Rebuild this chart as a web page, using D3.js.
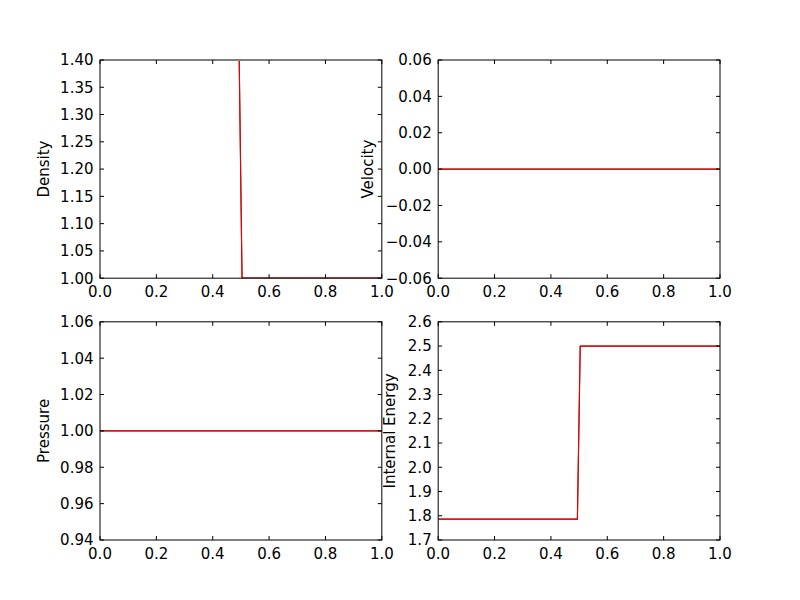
<!DOCTYPE html>
<html><head><meta charset="utf-8">
<script src="https://cdn.jsdelivr.net/npm/d3@7"></script>
<style>body{margin:0;background:#fff}</style>
</head><body>
<svg id="c" width="800" height="600"></svg>
<script>
const xs = [0, 0.494, 0.504, 1.0];
const density = [1.4, 1.4, 1.0, 1.0];
const velocity = [0, 0, 0, 0];
const pressure = [1.0, 1.0, 1.0, 1.0];
const energy = [1.786, 1.786, 2.5, 2.5];
const xTicks = [0, 0.2, 0.4, 0.6, 0.8, 1.0];
const densTicks = [1.00,1.05,1.10,1.15,1.20,1.25,1.30,1.35,1.40];
const velTicks = [-0.06,-0.04,-0.02,0,0.02,0.04,0.06];
const presTicks = [0.94,0.96,0.98,1.00,1.02,1.04,1.06];
const enTicks = [1.7,1.8,1.9,2.0,2.1,2.2,2.3,2.4,2.5,2.6];

const panels = [
  {label:"Density", y:density, dom:[1.0,1.4], ticks:densTicks, fmt:d3.format(".2f"), col:0,row:0, lx:-51},
  {label:"Velocity", y:velocity, dom:[-0.06,0.06], ticks:velTicks, fmt:d=>d3.format(".2f")(d).replace("-","\u2212"), col:1,row:0, lx:-65},
  {label:"Pressure", y:pressure, dom:[0.94,1.06], ticks:presTicks, fmt:d3.format(".2f"), col:0,row:1, lx:-51},
  {label:"Internal Energy", y:energy, dom:[1.7,2.6], ticks:enTicks, fmt:d3.format(".1f"), col:1,row:1, lx:-43}
];
const svg = d3.select("#c");
const W = 620/2.2, H = 480/2.2;
const font = "DejaVu Sans";
const fs = "15px";
panels.forEach((p,i)=>{
  const x0 = 100 + p.col*(W*1.2), y0 = 60 + p.row*(H*1.2);
  const g = svg.append("g").attr("transform",`translate(${x0},${y0})`);
  const xs_ = d3.scaleLinear().domain([0,1]).range([0,W]);
  const ys = d3.scaleLinear().domain(p.dom).range([H,0]);
  const cid = "clip"+i;
  g.append("clipPath").attr("id",cid).append("rect").attr("y",1).attr("width",W).attr("height",H-1);
  const line = d3.line().x((d,j)=>xs_(xs[j])).y(d=>ys(d));
  g.append("path").datum(p.y).attr("d",line).attr("fill","none").attr("stroke","#7a0000").attr("stroke-width",1.2).attr("clip-path",`url(#${cid})`);
  g.append("path").datum(p.y).attr("d",line).attr("fill","none").attr("stroke","#ff0000").attr("stroke-width",0.9).attr("clip-path",`url(#${cid})`);
  xTicks.forEach(t=>{
    const X = xs_(t);
    g.append("line").attr("x1",X).attr("x2",X).attr("y1",H).attr("y2",H-4).attr("stroke","#000");
    g.append("line").attr("x1",X).attr("x2",X).attr("y1",0).attr("y2",4).attr("stroke","#000");
    g.append("text").attr("x",X).attr("y",H+19).attr("text-anchor","middle").attr("font-family",font).attr("font-size",fs).text(d3.format(".1f")(t));
  });
  p.ticks.forEach(t=>{
    const Y = ys(t);
    g.append("line").attr("x1",0).attr("x2",4).attr("y1",Y).attr("y2",Y).attr("stroke","#000");
    g.append("line").attr("x1",W).attr("x2",W-4).attr("y1",Y).attr("y2",Y).attr("stroke","#000");
    g.append("text").attr("x",-6.5).attr("y",Y).attr("dy","0.36em").attr("text-anchor","end").attr("font-family",font).attr("font-size",fs).text(p.fmt(t));
  });
  g.append("rect").attr("width",W).attr("height",H).attr("fill","none").attr("stroke","#000").attr("stroke-width",1);
  g.append("text").attr("transform",`translate(${p.lx},${H/2}) rotate(-90)`).attr("text-anchor","middle").attr("font-family",font).attr("font-size",fs).text(p.label);
});
</script>
</body></html>
